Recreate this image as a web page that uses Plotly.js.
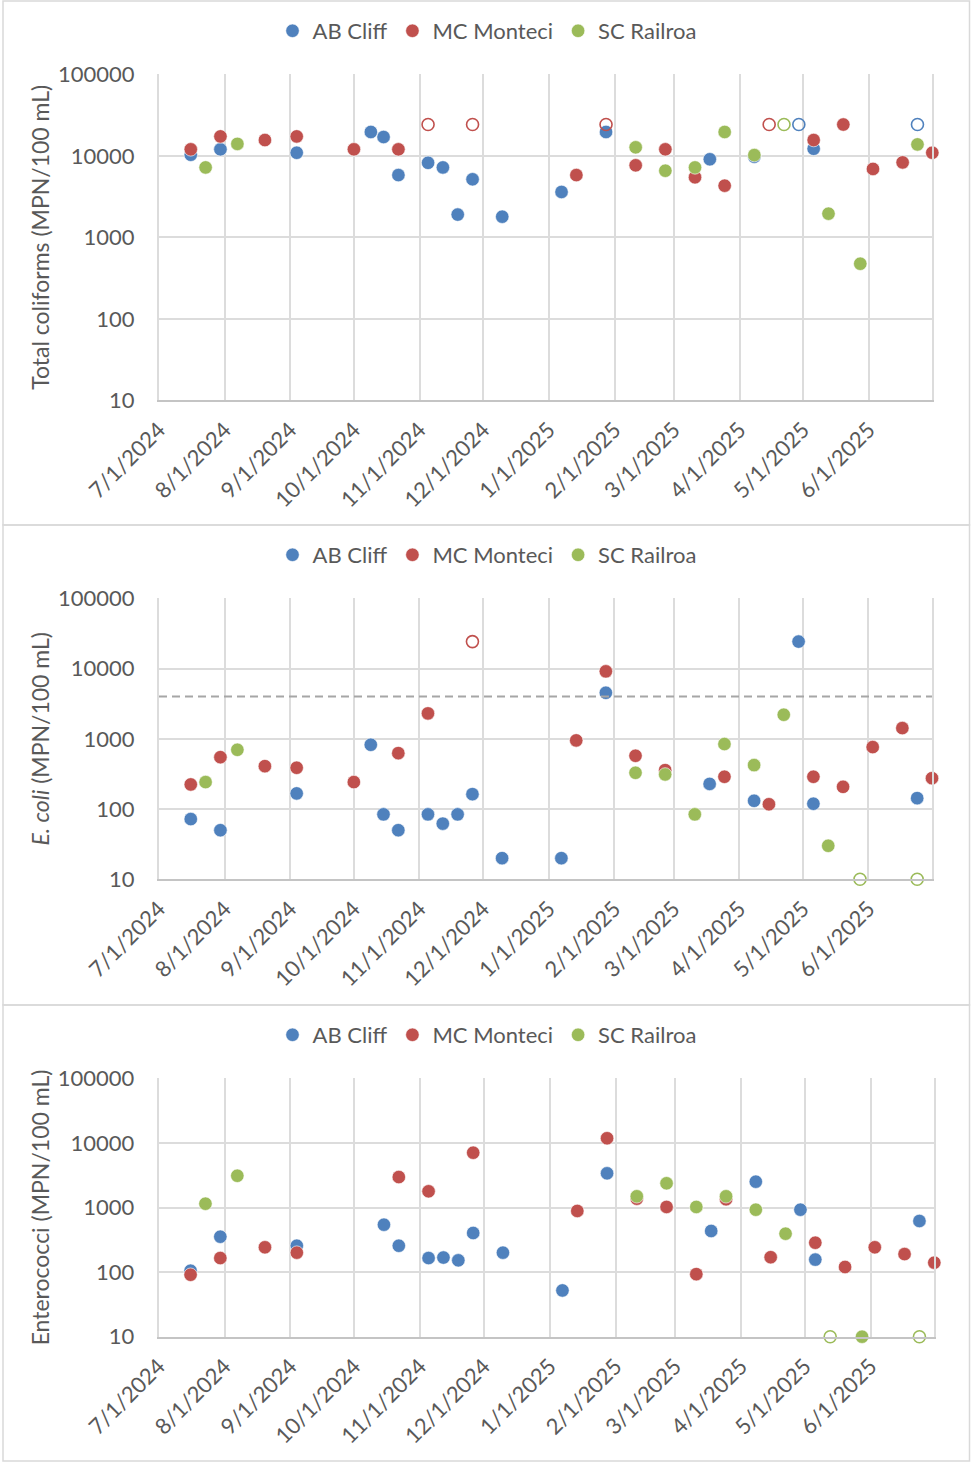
<!DOCTYPE html>
<html>
<head>
<meta charset="utf-8">
<script src="https://cdn.plot.ly/plotly-3.0.1.min.js"></script>
<style>
  html, body { margin: 0; padding: 0; background: #fff; }
  #chart { width: 974px; height: 1463px; }
</style>
</head>
<body>
<div id="chart"></div>
<script>
// Sampling dates for each beach site
const abCliffDates = ['2024-07-16','2024-07-30','2024-09-04','2024-10-09','2024-10-15','2024-10-22','2024-11-05','2024-11-12','2024-11-19','2024-11-26','2024-12-10','2025-01-07','2025-01-28','2025-03-18','2025-04-08','2025-04-29','2025-05-06','2025-06-24'];
const mcMonteciDates = ['2024-07-16','2024-07-30','2024-08-20','2024-09-04','2024-10-01','2024-10-22','2024-11-05','2024-11-26','2025-01-14','2025-01-28','2025-02-11','2025-02-25','2025-03-11','2025-03-25','2025-04-15','2025-05-06','2025-05-20','2025-06-03','2025-06-17','2025-07-01'];
const scRailroaDates = ['2024-07-23','2024-08-07','2025-02-11','2025-02-25','2025-03-11','2025-03-25','2025-04-08','2025-04-22','2025-05-13','2025-05-28','2025-06-24'];

// Results in MPN/100 mL. null = no result; ">"/"<" = beyond the quantification limit
const totalColiformsAB = [10300, 12000, 10900, 19600, 17000, 5800, 8200, 7200, 1900, 5150, 1790, 3600, 19600, 9060, 9750, '>24196', 12200, '>24196'];
const totalColiformsMC = [12000, 17300, 15600, 17300, 12000, 12000, '>24196', '>24196', 5800, '>24196', 7640, 12000, 5440, 4300, '>24196', 15600, 24196, 6900, 8300, 10900];
const totalColiformsSC = [7200, 14000, 12700, 6560, 7200, 19600, 10200, '>24196', 1950, 474, 13800];

const eColiAB = [72, 50, 167, 822, 84, 50, 84, 62, 84, 163, 20, 20, 4520, 228, 131, 24196, 119, 143];
const eColiMC = [224, 548, 408, 387, 242, 625, 2300, '>24196', 949, 9120, 573, 358, null, 288, 117, 288, 207, 762, 1420, 275];
const eColiSC = [242, 697, 328, 311, 84, 842, 422, 2200, 30, '<10', '<10'];
const eColiThreshold = 4000;

const enterococciAB = [105, 353, 256, null, 542, 256, 165, 168, 152, 403, 200, 52, 3380, 433, 2510, 925, 156, 618];
const enterococciMC = [91, 165, 242, 200, null, 2960, 1780, 7050, 884, 11800, 1370, 1020, 93, 1340, 170, 285, 120, 242, 190, 140];
const enterococciSC = [1145, 3100, 1490, 2370, 1020, 1490, 925, 393, '<10', 10, '<10'];

const siteNames = ['AB Cliff', 'MC Monteci', 'SC Railroa'];
const monthTicks = ['2024-07-01','2024-08-01','2024-09-01','2024-10-01','2024-11-01','2024-12-01','2025-01-01','2025-02-01','2025-03-01','2025-04-01','2025-05-01','2025-06-01'];
const monthLabels = ['7/1/2024','8/1/2024','9/1/2024','10/1/2024','11/1/2024','12/1/2024','1/1/2025','2/1/2025','3/1/2025','4/1/2025','5/1/2025','6/1/2025'];
const logTicks = [10, 100, 1000, 10000, 100000];
const logLabels = ['10', '100', '1000', '10000', '100000'];
const axisTitles = ['Total coliforms (MPN/100 mL)', '<i>E. coli</i> (MPN/100 mL)', 'Enterococci (MPN/100 mL)'];
const dateRange = ['2024-07-01', '2025-07-01'];

// ---- styling ----
const W = 974, H = 1463;
const colors = ['#4F81BD', '#C0504D', '#9BBB59'];
const textColor = '#595959';
const gridColor = '#DCDCDC';
const font = 'Lato, "Open Sans", sans-serif';
const px2x = v => v / W;
const px2y = v => 1 - v / H;

const siteDates = [abCliffDates, mcMonteciDates, scRailroaDates];
const panels = [
  [totalColiformsAB, totalColiformsMC, totalColiformsSC],
  [eColiAB, eColiMC, eColiSC],
  [enterococciAB, enterococciMC, enterococciSC]
];
// plot-area pixel boxes [left, top, right, bottom] and legend centre line
const boxes = [[159, 74.3, 932.3, 400.3], [159, 598.3, 932, 879.3], [158.7, 1078.3, 934.3, 1336.7]];
const legendY = [31, 555, 1035];
const frames = [[3, 1, 969.5, 525], [3, 525, 969.5, 1005], [3, 1005, 969.5, 1461]];

function splitPoints(dates, vals) {
  const solid = { x: [], y: [] }, hollow = { x: [], y: [] };
  vals.forEach((v, i) => {
    if (v === null || v === undefined) return;
    if (typeof v === 'string') {
      hollow.x.push(dates[i]);
      hollow.y.push(parseFloat(v.replace(/[<>]/g, '')));
    } else {
      solid.x.push(dates[i]);
      solid.y.push(v);
    }
  });
  return { solid, hollow };
}

const traces = [];
const layout = {
  width: W, height: H,
  margin: { l: 0, r: 0, t: 0, b: 0 },
  paper_bgcolor: '#ffffff',
  plot_bgcolor: '#ffffff',
  font: { family: font, size: 22, color: textColor },
  shapes: [],
  showlegend: true
};

panels.forEach((series, p) => {
  const n = p === 0 ? '' : String(p + 1);
  const xa = 'x' + n, ya = 'y' + n;
  const lg = 'legend' + n;
  const hollowTraces = [];
  series.forEach((vals, s) => {
    const parts = splitPoints(siteDates[s], vals);
    traces.push({
      type: 'scatter', mode: 'markers', name: siteNames[s],
      x: parts.solid.x, y: parts.solid.y, xaxis: xa, yaxis: ya, legend: lg,
      cliponaxis: false,
      marker: { color: colors[s], size: 13.5, line: { color: '#ffffff', width: 0.6 } }
    });
    if (parts.hollow.x.length) {
      hollowTraces.push({
        type: 'scatter', mode: 'markers', name: siteNames[s] + ' (limit)',
        x: parts.hollow.x, y: parts.hollow.y, xaxis: xa, yaxis: ya,
        showlegend: false, cliponaxis: false,
        marker: { color: colors[s], size: 12, symbol: 'circle-open', line: { width: 1.6 } }
      });
    }
  });
  traces.push(...hollowTraces);

  if (p === 1) {
    traces.push({
      type: 'scatter', mode: 'lines', name: 'threshold', showlegend: false,
      x: dateRange, y: [eColiThreshold, eColiThreshold], xaxis: xa, yaxis: ya,
      line: { color: '#A6A6A6', width: 2.2, dash: '8px,5px' }, hoverinfo: 'skip'
    });
  }

  const b = boxes[p];
  layout['xaxis' + n] = {
    type: 'date', range: dateRange, anchor: ya,
    domain: [px2x(b[0]), px2x(b[2])],
    tickvals: monthTicks, ticktext: monthLabels, tickangle: -45,
    showgrid: true, gridcolor: gridColor, gridwidth: 2,
    showline: true, linecolor: '#C4C4C4', linewidth: 2, mirror: false,
    ticks: '', ticklabelstandoff: 6,
    tickfont: { family: font, size: 22, color: textColor },
    zeroline: false, fixedrange: true
  };
  layout['yaxis' + n] = {
    type: 'log', range: [1, 5], anchor: xa,
    domain: [px2y(b[3]), px2y(b[1])],
    tickvals: logTicks, ticktext: logLabels,
    showgrid: true, gridcolor: gridColor, gridwidth: 2,
    showline: true, linecolor: gridColor, linewidth: 2, mirror: true,
    ticks: '', ticklabelstandoff: 18,
    tickfont: { family: font, size: 22, color: textColor },
    title: { text: axisTitles[p], font: { family: font, size: 23, color: textColor }, standoff: 2 },
    zeroline: false, fixedrange: true
  };
  layout[lg] = {
    orientation: 'h', x: px2x(487), xanchor: 'center',
    y: px2y(legendY[p]), yanchor: 'middle',
    font: { family: font, size: 22, color: textColor },
    bgcolor: 'rgba(0,0,0,0)', itemwidth: 30, tracegroupgap: 0
  };
  const f = frames[p];
  layout.shapes.push({
    type: 'rect', xref: 'paper', yref: 'paper',
    x0: px2x(f[0]), x1: px2x(f[2]), y0: px2y(f[3]), y1: px2y(f[1]),
    line: { color: '#D9D9D9', width: 1.5 }, fillcolor: 'rgba(0,0,0,0)', layer: 'below'
  });
});

Plotly.newPlot('chart', traces, layout, { displayModeBar: false, staticPlot: true });
</script>
</body>
</html>
